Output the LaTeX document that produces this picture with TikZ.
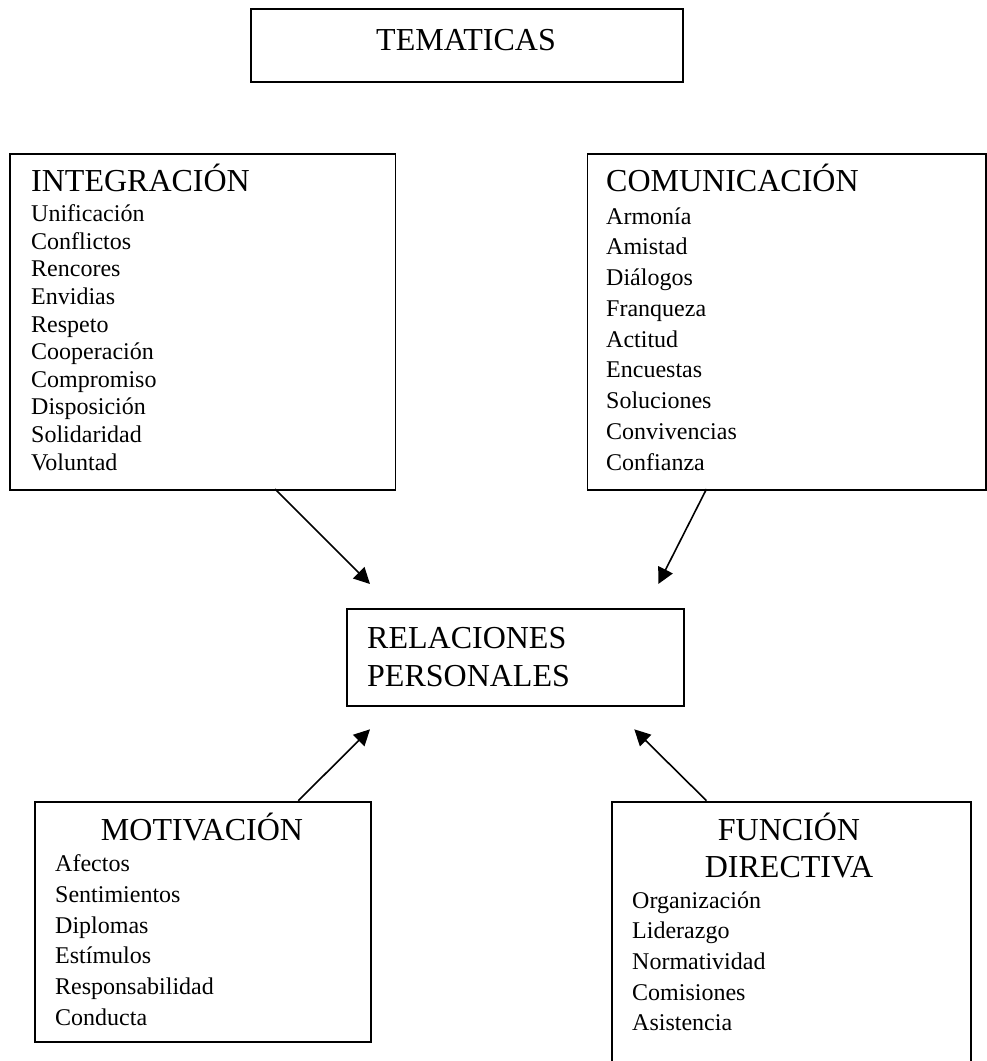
\documentclass[tikz,border=0pt]{standalone}
\usepackage{fontspec}
\setmainfont{Liberation Serif}
\usetikzlibrary{arrows.meta}
\begin{document}
\begin{tikzpicture}[x=1pt,y=-1pt,
  box/.style={draw=black,line width=1.8pt,rectangle,inner sep=0pt,anchor=north west},
  head/.style={inner sep=0pt,anchor=base west,font=\fontsize{32}{36}\selectfont},
  headc/.style={inner sep=0pt,anchor=base,font=\fontsize{32}{36}\selectfont},
  item/.style={inner sep=0pt,anchor=base west,font=\fontsize{24}{28}\selectfont},
  conn/.style={line width=1.6pt,-{Triangle[length=16pt,width=16pt]}}]
\clip (0,0) rectangle (987,1061);
\useasboundingbox (0,0) rectangle (987,1061);
\fill[white] (0,0) rectangle (987,1061);
% boxes
\node[box,minimum width=432pt,minimum height=72.4pt] (tem) at (250,8.3) {};
\node[box,minimum width=385.2pt,minimum height=336.3pt] (integ) at (9.4,152.7) {};
\node[box,minimum width=398.5pt,minimum height=336.3pt] (comun) at (586.5,152.7) {};
\node[box,minimum width=336.7pt,minimum height=96.7pt] (rel) at (346,608.3) {};
\node[box,minimum width=336pt,minimum height=240pt] (motiv) at (34,800.7) {};
\node[box,minimum width=359.3pt,minimum height=275pt] (func) at (610.7,800.7) {};
% texts
\node[headc] (temt) at (466,50) {TEMATICAS};
\node[head] (integt) at (31,191.7) {INTEGRACIÓN};
\foreach \t [count=\i] in {Unificación,Conflictos,Rencores,Envidias,Respeto,Cooperación,Compromiso,Disposición,Solidaridad,Voluntad}
  \node[item] (int\i) at (31,{221.7+(\i-1)*27.6}) {\t};
\node[head] (comunt) at (606,191.7) {COMUNICACIÓN};
\foreach \t [count=\i] in {Armonía,Amistad,Diálogos,Franqueza,Actitud,Encuestas,Soluciones,Convivencias,Confianza}
  \node[item] (com\i) at (606,{224+(\i-1)*30.75}) {\t};
\node[head] (relt1) at (367,648) {RELACIONES};
\node[head] (relt2) at (367,686) {PERSONALES};
\node[headc] (motivt) at (202,840) {MOTIVACIÓN};
\foreach \t [count=\i] in {Afectos,Sentimientos,Diplomas,Estímulos,Responsabilidad,Conducta}
  \node[item] (mot\i) at (55,{871.7+(\i-1)*30.7}) {\t};
\node[headc] (funct1) at (789,840.7) {FUNCIÓN};
\node[headc] (funct2) at (789,877.3) {DIRECTIVA};
\foreach \t [count=\i] in {Organización,Liderazgo,Normatividad,Comisiones,Asistencia}
  \node[item] (fun\i) at (632,{908.3+(\i-1)*30.6}) {\t};
% connector ends
\coordinate (s1) at (275,489);
\coordinate (e1) at (370,584);
\coordinate (s2) at (706.5,489);
\coordinate (e2) at (658.3,584);
\coordinate (s3) at (298.3,800.7);
\coordinate (e3) at (370,729.3);
\coordinate (s4) at (706.5,800.7);
\coordinate (e4) at (634.3,729.3);
\draw[conn] (s1) -- (e1);
\draw[conn] (s2) -- (e2);
\draw[conn] (s3) -- (e3);
\draw[conn] (s4) -- (e4);
\end{tikzpicture}
\end{document}
